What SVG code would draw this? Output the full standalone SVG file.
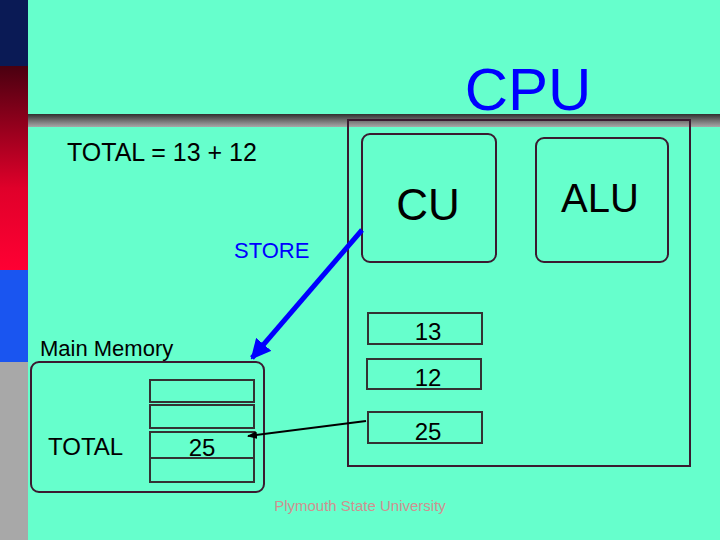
<svg xmlns="http://www.w3.org/2000/svg" width="720" height="540" viewBox="0 0 720 540">
<defs>
<linearGradient id="red" x1="0" y1="0" x2="0" y2="1"><stop offset="0" stop-color="#4a0010"/><stop offset="0.6" stop-color="#e0002a"/><stop offset="1" stop-color="#ff0033"/></linearGradient>
<linearGradient id="bar" x1="0" y1="0" x2="0" y2="1"><stop offset="0" stop-color="#303030"/><stop offset="0.5" stop-color="#707070"/><stop offset="1" stop-color="#a8a8a8"/></linearGradient>
<marker id="ab" viewBox="0 0 10 10" refX="9" refY="5" markerWidth="4" markerHeight="4" orient="auto"><path d="M0,0L10,5L0,10z" fill="#0000ff"/></marker>
<marker id="ak" viewBox="0 0 10 10" refX="9" refY="5" markerWidth="5" markerHeight="5" orient="auto"><path d="M0,1L10,5L0,9z" fill="#000"/></marker>
</defs>
<style>
.t{font-family:"Liberation Sans",Arial,sans-serif;fill:#000}
.b{fill:none;stroke:#3a1a30;stroke-width:2}
.r{fill:none;stroke:#333;stroke-width:2}
</style>
<rect width="720" height="540" fill="#66ffcc"/>
<rect x="0" y="0" width="28" height="66" fill="#0a1a55"/>
<rect x="0" y="66" width="28" height="204" fill="url(#red)"/>
<rect x="0" y="270" width="28" height="92" fill="#1a55f0"/>
<rect x="0" y="362" width="28" height="178" fill="#a8a8a8"/>
<rect x="28" y="114" width="692" height="13" fill="url(#bar)"/>
<text x="528" y="110" font-size="60" text-anchor="middle" class="t" style="fill:#0000ff">CPU</text>
<text x="67" y="161" font-size="25" class="t">TOTAL = 13 + 12</text>
<g id="cpu"><rect x="348" y="120" width="342" height="346" class="b"/></g>
<g id="cu"><rect x="362" y="134" width="134" height="128" rx="8" class="b"/><text x="428" y="220" font-size="44" text-anchor="middle" class="t">CU</text></g>
<g id="alu"><rect x="536" y="138" width="132" height="124" rx="8" class="b"/><text x="600" y="212" font-size="40" text-anchor="middle" class="t">ALU</text></g>
<g id="reg13"><rect x="368" y="313" width="114" height="31" class="r"/><text x="428" y="340" font-size="24" text-anchor="middle" class="t">13</text></g>
<g id="reg12"><rect x="367" y="359" width="114" height="30" class="r"/><text x="428" y="386" font-size="24" text-anchor="middle" class="t">12</text></g>
<g id="reg25"><rect x="368" y="412" width="114" height="31" class="r"/><text x="428" y="440" font-size="24" text-anchor="middle" class="t">25</text></g>
<g id="memory">
<text x="40" y="356" font-size="22" class="t">Main Memory</text>
<rect x="31" y="362" width="233" height="130" rx="8" class="b"/>
<rect x="150" y="380" width="104" height="22" class="r"/>
<rect x="150" y="405" width="104" height="23" class="r"/>
<rect x="150" y="432" width="104" height="26" class="r"/>
<rect x="150" y="458" width="104" height="24" class="r"/>
<text x="48" y="455" font-size="24" class="t">TOTAL</text>
<text x="202" y="456" font-size="24" text-anchor="middle" class="t">25</text>
</g>
<g id="connectors">
<line x1="362" y1="230" x2="252" y2="358" stroke="#0000ff" stroke-width="5" marker-end="url(#ab)"/>
<line x1="366" y1="421" x2="248" y2="436" stroke="#000" stroke-width="2" marker-end="url(#ak)"/>
</g>
<text x="234" y="258" font-size="22" class="t" style="fill:#0000ff">STORE</text>
<text x="360" y="511" font-size="15" text-anchor="middle" class="t" style="fill:#d09090">Plymouth State University</text>
</svg>
